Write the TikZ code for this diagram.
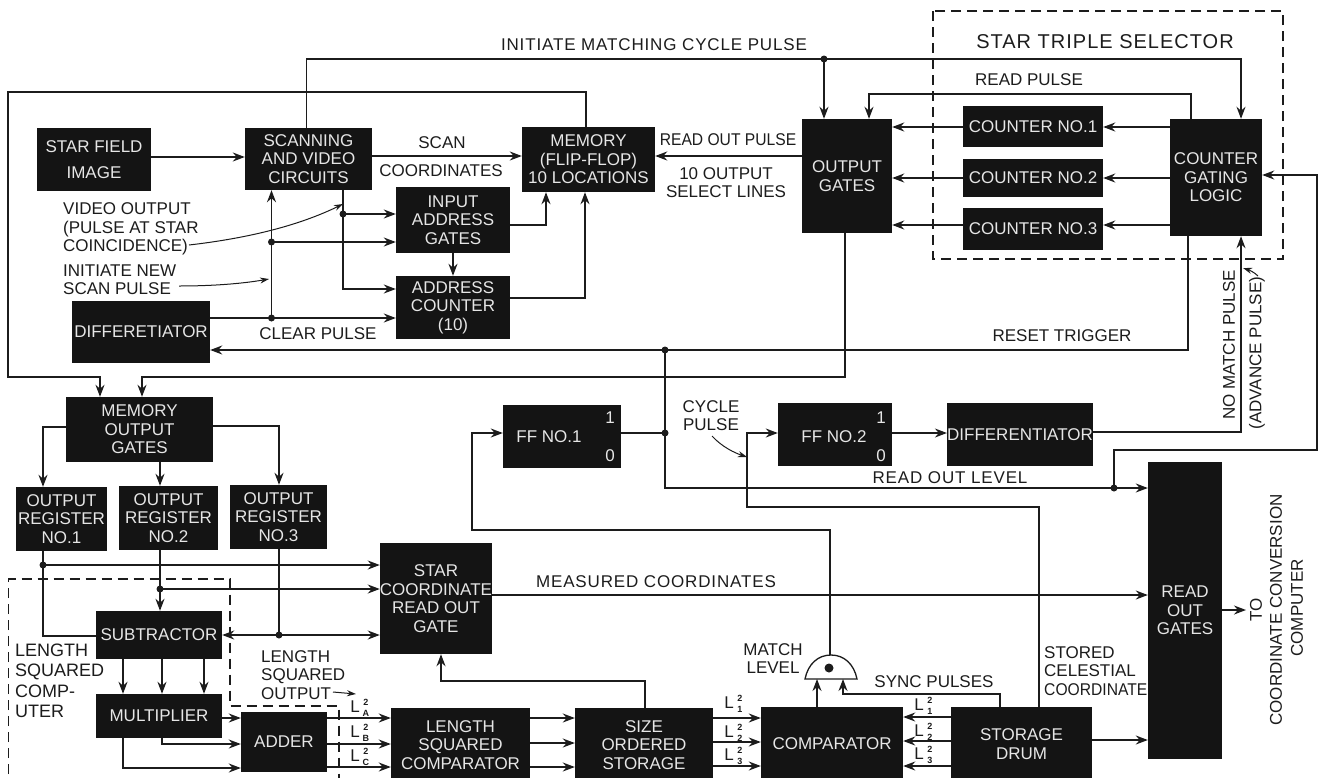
\documentclass[tikz,border=0pt]{standalone}
\usepackage{fontspec}
\setmainfont{Liberation Sans}
\newfontfamily\widef[LetterSpace=5]{Liberation Sans}
\newfontfamily\narrowf[FakeStretch=0.92]{Liberation Sans}
\usetikzlibrary{arrows.meta,calc}
\definecolor{ink}{HTML}{1C1C1C}
\definecolor{boxfill}{HTML}{141414}
\definecolor{boxtext}{HTML}{E6E6E6}
\tikzset{
  blk/.style={fill=boxfill,draw=none,text=boxtext,inner sep=0pt,align=center,font=\fontsize{17}{18.5}\selectfont},
  wire/.style={draw=ink,line width=1.4pt},
  arr/.style={wire,-{Stealth[length=12pt,width=9pt]}},
  lead/.style={draw=ink,line width=1pt,-{Stealth[length=9pt,width=6pt]}},
  dash box/.style={draw=ink,line width=1.4pt,dash pattern=on 10pt off 6pt},
  lbl/.style={text=ink,inner sep=0pt,align=center,font=\fontsize{17}{18.5}\selectfont},
  lleft/.style={lbl,align=left,anchor=west},
  llab/.style={text=ink,inner sep=0pt,font=\fontsize{17}{17}\selectfont},
  lscr/.style={text=ink,inner sep=0pt,font=\fontsize{9}{9}\selectfont\bfseries},
  dot/.style={circle,fill=ink,inner sep=0pt,minimum size=7pt},
}
\newcommand{\bx}[6]{\node[blk,minimum width={(#4-#2)*1pt},minimum height={(#5-#3)*1pt}] (#1) at ({(#2+#4)/2},{(#3+#5)/2}) {#6};}
\begin{document}
\begin{tikzpicture}[x=1pt,y=-1pt]
\useasboundingbox (0,0) rectangle (1319,777);
\clip (0,0) rectangle (1319,777);
% dashed enclosures
\draw[dash box] (933,11) rectangle (1283,259);
\draw[dash box] (8.5,790) -- (8.5,579) -- (230,579) -- (230,706) -- (339,706) -- (339,790);
% blocks
\bx{star}{37}{128}{151}{191}{STAR FIELD\\[8pt]IMAGE}
\bx{scan}{245}{128}{372}{190}{SCANNING\\AND VIDEO\\CIRCUITS}
\bx{mem}{522}{127}{655}{192}{MEMORY\\(FLIP-FLOP)\\10 LOCATIONS}
\bx{inp}{396}{187}{510}{253}{INPUT\\ADDRESS\\GATES}
\bx{cnt}{396}{276}{510}{339}{ADDRESS\\COUNTER\\(10)}
\bx{dif}{72}{301}{210}{363}{DIFFERETIATOR}
\bx{og}{802}{119}{892}{233}{OUTPUT\\GATES}
\bx{c1}{963}{106}{1103}{147}{COUNTER NO.1}
\bx{c2}{963}{159}{1103}{197}{COUNTER NO.2}
\bx{c3}{963}{208}{1103}{250}{COUNTER NO.3}
\bx{cgl}{1170}{119}{1262}{236}{COUNTER\\GATING\\LOGIC}
\bx{mog}{66}{397}{213}{462}{MEMORY\\OUTPUT\\GATES}
\bx{ff1}{503}{405}{621}{468}{}
\bx{ff2}{778}{403}{892}{466}{}
\bx{dif2}{949}{403}{1091}{466}{DIFFERENTIATOR}
\bx{rd}{1148}{462}{1222}{759}{READ\\OUT\\GATES}
\bx{r1}{16}{487}{107}{551}{OUTPUT\\REGISTER\\NO.1}
\bx{r2}{119}{486}{218}{550}{OUTPUT\\REGISTER\\NO.2}
\bx{r3}{230}{485}{327}{549}{OUTPUT\\REGISTER\\NO.3}
\bx{sc}{380}{543}{492}{654}{STAR\\COORDINATE\\READ OUT\\GATE}
\bx{sub}{96}{611}{222}{659}{SUBTRACTOR}
\bx{mul}{96}{694}{222}{738}{MULTIPLIER}
\bx{add}{241}{712}{327}{772}{ADDER}
\bx{lsc}{391}{708}{530}{782}{LENGTH\\SQUARED\\COMPARATOR}
\bx{sos}{575}{708}{713}{782}{SIZE\\ORDERED\\STORAGE}
\bx{cmp}{761}{707}{903}{781}{COMPARATOR}
\bx{drum}{951}{707}{1092}{781}{STORAGE\\DRUM}
% FF texts
\node[blk,fill=none,anchor=center] (ff1t) at (549,437) {FF NO.1};
\node[blk,fill=none] (ff1a) at (610,418) {1};
\node[blk,fill=none] (ff1b) at (610,456) {0};
\node[blk,fill=none,anchor=center] (ff2t) at (834,437) {FF NO.2};
\node[blk,fill=none] (ff2a) at (881,418) {1};
\node[blk,fill=none] (ff2b) at (881,456) {0};
% AND gate
\draw[draw=ink,line width=1.3pt,fill=white] (805,679) .. controls (808,664) and (818,655) .. (831,655) .. controls (844,655) and (854,664) .. (857,679) -- cycle;
\coordinate (gate) at (830,655);
\node[dot,minimum size=9pt] (gdot) at (829,668) {};
% connectors, top
\draw[arr] (star.east |- 0,157) -- (scan.west |- 0,157);
\draw[arr] (scan.east |- 0,156) -- (mem.west |- 0,156);
\draw[arr] (og.west |- 0,156) -- (mem.east |- 0,156);
\coordinate (j1) at (824,59);
\draw[wire] (scan.north -| 306.5,0) -- (306.5,59) -- (j1);
\draw[arr] (j1) -- (1241,59) -- (cgl.north -| 1241,0);
\draw[arr] (j1) -- (og.north -| 824,0);
\node[dot] at (j1) {};
\draw[arr] (cgl.north -| 1191,0) -- (1191,94) -- (869,94) -- (og.north -| 869,0);
\foreach \n/\y in {c1/127,c2/178,c3/225}{
  \draw[arr] (cgl.west |- 0,\y) -- (\n.east |- 0,\y);
  \draw[arr] (\n.west |- 0,\y) -- (og.east |- 0,\y);
}
% memory loop
\draw[arr] (mem.north -| 586,0) -- (586,92) -- (8,92) -- (8,377) -- (100,377) -- (mog.north -| 100,0);
\draw[arr] (og.south -| 845,0) -- (845,377) -- (142,377) -- (mog.north -| 142,0);
% scan region
\coordinate (j2) at (271.5,242);
\coordinate (j3) at (271.5,318);
\coordinate (j4) at (343,214);
\draw[wire] (dif.east |- 0,318) -- (j3);
\draw[arr] (j3) -- (cnt.west |- 0,318);
\draw[arr] (j3) -- (j2) -- (scan.south -| 271.5,0);
\draw[arr] (j2) -- (inp.west |- 0,242);
\draw[wire] (scan.south -| 343,0) -- (j4);
\draw[arr] (j4) -- (343,289) -- (cnt.west |- 0,289);
\draw[arr] (j4) -- (inp.west |- 0,214);
\node[dot] at (j2) {}; \node[dot] at (j3) {}; \node[dot] at (j4) {};
\draw[arr] (inp.east |- 0,225) -- (546,225) -- (mem.south -| 546,0);
\draw[arr] (cnt.east |- 0,298) -- (585,298) -- (mem.south -| 585,0);
\draw[arr] (inp.south -| 453,0) -- (cnt.north -| 453,0);
% reset
\coordinate (j5) at (665,350);
\coordinate (j6) at (665,433);
\coordinate (j7) at (1114,488);
\draw[wire] (cgl.south -| 1188,0) -- (1188,350) -- (j5);
\draw[arr] (j5) -- (dif.east |- 0,350);
\draw[wire] (j5) -- (j6) -- (665,488) -- (j7);
\draw[wire] (ff1.east |- 0,433) -- (j6);
\draw[arr] (j7) -- (rd.west |- 0,488);
\draw[arr] (j7) -- (1114,450) -- (1317,450) -- (1317,175) -- (cgl.east |- 0,175);
\node[dot] at (j5) {}; \node[dot] at (j6) {}; \node[dot] at (j7) {};
\draw[arr] (ff2.east |- 0,433) -- (dif2.west |- 0,433);
\draw[arr] (dif2.east |- 0,432) -- (1241,432) -- (cgl.south -| 1241,0);
\draw[arr] (drum.north -| 1039,0) -- (1039,507) -- (747,507) -- (747,433) -- (ff2.west |- 0,433);
\draw[arr] (gate) -- (830,530) -- (472,530) -- (472,433) -- (ff1.west |- 0,433);
% memory output
\draw[arr] (mog.west |- 0,427) -- (43,427) -- (r1.north -| 43,0);
\draw[arr] (mog.south -| 160,0) -- (r2.north -| 160,0);
\draw[arr] (mog.east |- 0,426) -- (279,426) -- (r3.north -| 279,0);
\coordinate (j8) at (43,565);
\coordinate (j9) at (160,589);
\coordinate (j10) at (279,635);
\draw[wire] (r1.south -| 43,0) -- (j8) -- (43,636) -- (sub.west |- 0,636);
\draw[arr] (j8) -- (sc.west |- 0,565);
\draw[wire] (r2.south -| 160,0) -- (j9);
\draw[arr] (j9) -- (sub.north -| 160,0);
\draw[arr] (j9) -- (sc.west |- 0,589);
\draw[wire] (r3.south -| 279,0) -- (j10);
\draw[arr] (j10) -- (sub.east |- 0,635);
\draw[arr] (j10) -- (sc.west |- 0,635);
\node[dot] at (j8) {}; \node[dot] at (j9) {}; \node[dot] at (j10) {};
\foreach \x in {123,162,204}{\draw[arr] (sub.south -| \x,0) -- (mul.north -| \x,0);}
\draw[arr] (mul.east |- 0,718) -- (add.west |- 0,718);
\draw[arr] (mul.south -| 162,0) -- (162,744) -- (add.west |- 0,744);
\draw[arr] (mul.south -| 123,0) -- (123,768) -- (add.west |- 0,768);
\foreach \y in {718,744,767}{\draw[arr] (add.east |- 0,\y) -- (lsc.west |- 0,\y);}
\foreach \y in {718,743,767}{\draw[arr] (lsc.east |- 0,\y) -- (sos.west |- 0,\y);}
\foreach \y in {718,742,766}{\draw[arr] (sos.east |- 0,\y) -- (cmp.west |- 0,\y);}
\foreach \y in {717,741,766}{\draw[arr] (drum.west |- 0,\y) -- (cmp.east |- 0,\y);}
\draw[arr] (sos.north -| 645,0) -- (645,681) -- (441,681) -- (sc.south -| 441,0);
\draw[arr] (sc.east |- 0,595) -- (rd.west |- 0,595);
\draw[arr] (drum.east |- 0,740) -- (rd.west |- 0,740);
\draw[arr] (cmp.north -| 817,0) -- (817,679);
\draw[arr] (drum.north -| 1000,0) -- (1000,694) -- (843,694) -- (843,679);
\coordinate (toout) at (1246,610);
\draw[arr] (rd.east |- 0,610) -- (toout);
% labels
\node[lbl,font=\fontsize{17}{18}\widef] (t1) at (654,45) {INITIATE MATCHING CYCLE PULSE};
\node[lbl,font=\fontsize{20}{22}\widef] (t2) at (1105,42) {STAR TRIPLE SELECTOR};
\node[lbl] (t3) at (1029,80) {READ PULSE};
\node[lbl] (t4) at (442,143) {SCAN};
\node[lbl] (t5) at (441,171) {COORDINATES};
\node[lbl,font=\fontsize{17}{18}\narrowf] (t6) at (728,140) {READ OUT PULSE};
\node[lbl] (t7) at (726,182.5) {10 OUTPUT\\SELECT LINES};
\node[lleft] (t8) at (63,229) {VIDEO OUTPUT\\(PULSE AT STAR\\COINCIDENCE)};
\node[lleft] (t9) at (63,279.5) {INITIATE NEW\\SCAN PULSE};
\node[lbl] (t10) at (318,334) {CLEAR PULSE};
\node[lbl] (t11) at (1062,336) {RESET TRIGGER};
\node[lbl] (t12) at (711,415.5) {CYCLE\\PULSE};
\node[lbl,font=\fontsize{17}{18}\widef] (t13) at (950,478) {READ OUT LEVEL};
\node[lbl,rotate=90] (t14) at (1229,345) {NO MATCH PULSE};
\node[lbl,rotate=90] (t15) at (1257,353) {(ADVANCE PULSE)};
\node[lbl,font=\fontsize{17}{18}\widef] (t16) at (656,582) {MEASURED COORDINATES};
\node[lbl,rotate=90] (t17) at (1256,610) {TO};
\node[lbl,rotate=90] (t18) at (1276,610) {COORDINATE CONVERSION};
\node[lbl,rotate=90] (t19) at (1297,608) {COMPUTER};
\node[lbl] (t20) at (773,658.5) {MATCH\\LEVEL};
\node[lbl] (t21) at (934,682) {SYNC PULSES};
\node[lleft] (t22) at (1044,671) {STORED\\CELESTIAL\\{\narrowf COORDINATE}};
\node[lleft,font=\fontsize{18}{20.5}\selectfont] (t23) at (15,681) {LENGTH\\SQUARED\\COMP-\\UTER};
\node[lleft] (t24) at (261,675) {LENGTH\\SQUARED\\OUTPUT};
% length labels: capital L with a small 2 above and a small index below
\foreach \nm/\x/\y/\s in {la/355/707/A,lb/355/732/B,lc/355/756/C,l1/729/703/1,l2/729/732/2,l3/729/755/3,r1x/919/705/1,r2x/919/731/2,r3x/919/754/3}{
  \node[llab] (\nm) at (\x,\y) {L};
  \node[lscr,anchor=center] (\nm u) at ([xshift=6pt,yshift=5pt]\nm.east) {2};
  \node[lscr,anchor=center] (\nm d) at ([xshift=6pt,yshift=-6pt]\nm.east) {\s};
}
% pointer arrows
\coordinate (p1) at (343,204);
\coordinate (p2) at (269,279);
\coordinate (p3) at (747,457);
\coordinate (p4) at (1243,268);
\coordinate (p5) at (356,694);
\draw[lead] (189,245) .. controls (250,238) and (300,225) .. (p1);
\draw[lead] (179,286) .. controls (210,286) and (240,284) .. (p2);
\draw[lead] (712,436) .. controls (722,447) and (735,453) .. (p3);
\draw[lead] (1258,276) .. controls (1254,272) and (1249,270) .. (p4);
\draw[lead] (333,692) -- (p5);
\end{tikzpicture}
\end{document}
